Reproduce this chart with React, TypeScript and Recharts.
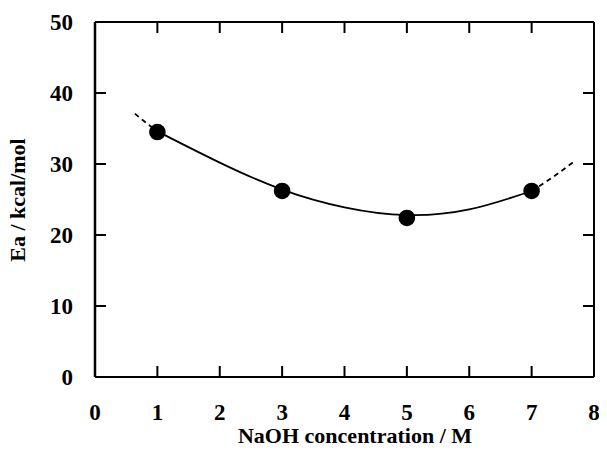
import React from 'react';
import { ComposedChart, Line, Scatter, XAxis, YAxis, ZAxis } from 'recharts';

// measured activation energies
const concentrations = [1, 3, 5, 7];
const energies = [34.5, 26.2, 22.4, 26.2];

// fitted curve, solid between measured points
const fitX = [1, 2, 3, 4, 5, 6, 7];
const fitY = [34.6, 30.2, 26.4, 23.9, 22.8, 23.6, 26.2];

// dashed extrapolation at both ends
const extLeftX = [0.64, 0.82, 1];
const extLeftY = [37.1, 35.8, 34.6];
const extRightX = [7, 7.33, 7.66];
const extRightY = [26.2, 28.1, 30.2];

const xTicks = [0, 1, 2, 3, 4, 5, 6, 7, 8];
const yTicks = [0, 10, 20, 30, 40, 50];

const FONT = "'Liberation Serif', serif";
const tickFont = { fontFamily: FONT, fontWeight: 'bold', fontSize: 23, fill: '#000' };
const ts = { stroke: '#000', strokeWidth: 2 };

const toPoints = (xs: number[], ys: number[]) => xs.map((x, i) => ({ x, y: ys[i] }));

const points = toPoints(concentrations, energies);
const fit = toPoints(fitX, fitY);
const extLeft = toPoints(extLeftX, extLeftY);
const extRight = toPoints(extRightX, extRightY);

// top and right axes carry tick marks only
const NoLabel = () => <g />;

// both axis titles
const Titles = () => (
  <g fontFamily={FONT} fontWeight="bold" fontSize={22} fill="#000">
    <text x={355} y={443} textAnchor="middle">
      NaOH concentration / M
    </text>
    <text x={17} y={200} transform="rotate(-90, 17, 200)" textAnchor="middle" dominantBaseline="central">
      Ea / kcal/mol
    </text>
  </g>
);

const App: React.FC = () => (
  <div style={{ margin: -8 }}>
    <ComposedChart width={607} height={454} margin={{ top: 20, right: 11, bottom: 20, left: 0 }}>
      <XAxis
        dataKey="x"
        type="number"
        domain={[0, 8]}
        ticks={xTicks}
        tickSize={-11}
        tickMargin={38}
        tickLine={ts}
        tick={tickFont}
        axisLine={{ stroke: '#000', strokeWidth: 2 }}
        height={57}
        label={{ content: () => <Titles /> }}
      />
      <XAxis
        xAxisId="top"
        orientation="top"
        dataKey="x"
        type="number"
        domain={[0, 8]}
        ticks={xTicks}
        tickSize={-11}
        tickLine={ts}
        tick={NoLabel}
        axisLine={{ stroke: '#000', strokeWidth: 2 }}
        height={2}
      />
      <YAxis
        type="number"
        domain={[0, 50]}
        ticks={yTicks}
        tickSize={-11}
        tickMargin={33}
        tickLine={ts}
        tick={tickFont}
        axisLine={{ stroke: '#000', strokeWidth: 2.5 }}
        width={95}
      />
      <YAxis
        yAxisId="right"
        orientation="right"
        type="number"
        domain={[0, 50]}
        ticks={yTicks}
        tickSize={-11}
        tickLine={ts}
        tick={NoLabel}
        axisLine={{ stroke: '#000', strokeWidth: 2 }}
        width={2}
      />
      <ZAxis range={[216, 216]} />
      {/* invisible copy of the points so the top and right axes get their ticks */}
      <Line data={points} dataKey="y" xAxisId="top" yAxisId="right" stroke="none" dot={false} isAnimationActive={false} />
      <Line data={fit} dataKey="y" type="natural" stroke="#000" strokeWidth={1.8} dot={false} isAnimationActive={false} />
      <Line data={extLeft} dataKey="y" type="natural" stroke="#000" strokeWidth={1.8} strokeDasharray="5 4" dot={false} isAnimationActive={false} />
      <Line data={extRight} dataKey="y" type="natural" stroke="#000" strokeWidth={1.8} strokeDasharray="5 4" dot={false} isAnimationActive={false} />
      <Scatter data={points} dataKey="y" fill="#000" isAnimationActive={false} />
    </ComposedChart>
  </div>
);

export default App;
